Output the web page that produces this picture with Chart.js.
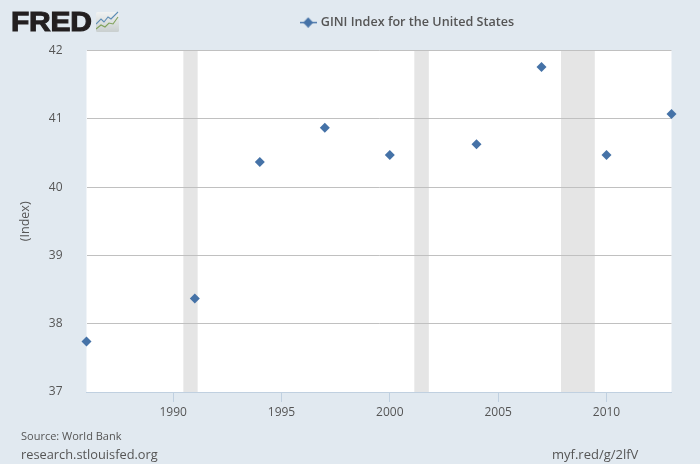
<!DOCTYPE html>
<html>
<head>
<meta charset="utf-8">
<script src="https://cdn.jsdelivr.net/npm/chart.js@4"></script>
<style>
html,body{margin:0;padding:0;background:#e1e9f0;width:700px;height:464px;overflow:hidden}
#wrap{position:absolute;left:0;top:0;width:700px;height:464px}
.t{position:absolute;white-space:nowrap;font-family:"Open Sans",sans-serif;color:#555}
#logo{left:11px;top:4px;font:900 28px/36px "Liberation Sans",sans-serif;color:#231f20;letter-spacing:-.2px;-webkit-text-stroke:1.1px #231f20;transform-origin:left center;transform:scaleX(1.07)}
#icon{position:absolute;left:96px;top:11px}
</style>
</head>
<body>
<div id="wrap"><canvas id="c" width="700" height="464"></canvas></div>
<div class="t" id="logo">FRED</div>
<svg id="icon" width="24" height="22" viewBox="0 0 24 22">
  <defs><linearGradient id="g" x1="0" y1="0" x2="0" y2="1"><stop offset="0" stop-color="#f0f2f2"/><stop offset="1" stop-color="#c9cfcf"/></linearGradient></defs>
  <rect x="0" y="1" width="23" height="20" rx="1.5" fill="url(#g)"/>
  <polyline points="0,13 5,8 8,11 12,6 15,8 22,1" fill="none" stroke="#5d8db5" stroke-width="1.1"/>
  <polyline points="0,18 5,14 9,16 13,12 17,13 22,6" fill="none" stroke="#7fa25a" stroke-width="1.1"/>
</svg>
<div class="t" style="left:21px;top:428px;font-size:11px;line-height:15px">Source: World Bank</div>
<div class="t" style="left:21px;top:445px;font-size:12.8px;line-height:18px">research.stlouisfed.org</div>
<div class="t" style="left:552px;top:445px;font-size:13px;line-height:18px">myf.red/g/2lfV</div>
<script>
const seriesName = "GINI Index for the United States";
const years = [1986, 1991, 1994, 1997, 2000, 2004, 2007, 2010, 2013];
const giniValues = [37.74, 38.37, 40.37, 40.87, 40.47, 40.63, 41.76, 40.47, 41.07];
const xTickValues = [1990, 1995, 2000, 2005, 2010];
const yTickValues = [37, 38, 39, 40, 41, 42];
const recessionStarts = [1990.47, 2001.13, 2007.9];
const recessionEnds = [1991.13, 2001.8, 2009.46];

const seriesColor = "#4572a7";

const legendMark = document.createElement("canvas");
legendMark.width = 17; legendMark.height = 11;
(function () {
  const g = legendMark.getContext("2d");
  g.fillStyle = seriesColor;
  g.fillRect(0, 5, 17, 1.4);
  g.beginPath(); g.moveTo(8.5, 0.5); g.lineTo(13.5, 5.7); g.lineTo(8.5, 10.9); g.lineTo(3.5, 5.7); g.closePath(); g.fill();
})();

const panel = {
  id: "panel",
  afterLayout(chart) {
    chart.legend.left = 116;
    chart.legend.right = 700;
    chart.legend.top -= 12;
    chart.legend.bottom -= 12;
  },
  beforeDraw(chart) {
    const { ctx, chartArea: a, scales: { x } } = chart;
    ctx.save();
    ctx.fillStyle = "#ffffff";
    ctx.fillRect(a.left, a.top, a.right - a.left, a.bottom - a.top);
    ctx.fillStyle = "#e5e5e5";
    recessionStarts.forEach((s, i) => {
      const l = x.getPixelForValue(s), r = x.getPixelForValue(recessionEnds[i]);
      ctx.fillRect(l, a.top, r - l, a.bottom - a.top);
    });
    ctx.restore();
  }
};

new Chart(document.getElementById("c"), {
  type: "scatter",
  data: {
    datasets: [{
      label: seriesName,
      data: years.map((y, i) => ({ x: y, y: giniValues[i] })),
      backgroundColor: seriesColor,
      borderColor: seriesColor,
      pointStyle: "rectRot",
      pointRadius: 5,
      pointBorderWidth: 0,
      clip: false
    }]
  },
  plugins: [panel],
  options: {
    responsive: false,
    animation: false,
    devicePixelRatio: 1,
    layout: { padding: { left: 17.5, right: 28.5, top: 18, bottom: 42 } },
    plugins: {
      tooltip: { enabled: false },
      legend: {
        display: true,
        position: "top",
        labels: {
          usePointStyle: true,
          color: "#555",
          font: { family: "Open Sans", size: 12.6, weight: "600" },
          padding: 10,
          generateLabels: () => [{ text: seriesName, pointStyle: legendMark, fontColor: "#555", lineWidth: 0, strokeStyle: "transparent", fillStyle: seriesColor }]
        }
      }
    },
    scales: {
      x: {
        type: "linear",
        min: 1986,
        max: 2013,
        afterBuildTicks: s => { s.ticks = xTickValues.map(v => ({ value: v })); },
        afterFit: s => { s.height = 30; },
        grid: { drawOnChartArea: false, drawTicks: true, tickLength: 10, color: "#c0d0e0" },
        border: { color: "#c0d0e0" },
        ticks: { color: "#555", padding: 3, maxRotation: 0, autoSkip: false, font: { family: "Open Sans", size: 12 }, callback: v => String(v) }
      },
      y: {
        min: 37,
        max: 42,
        afterBuildTicks: s => { s.ticks = yTickValues.map(v => ({ value: v })); },
        afterFit: s => { s.width = 69; },
        grid: { drawTicks: false, color: "#c0c0c0" },
        border: { display: false },
        title: { display: true, text: "(Index)", color: "#555", padding: 0, font: { family: "Open Sans", size: 12.5 } },
        ticks: { color: "#555", padding: 24, font: { family: "Open Sans", size: 12 }, callback: v => String(v) }
      }
    }
  }
});
</script>
</body>
</html>
